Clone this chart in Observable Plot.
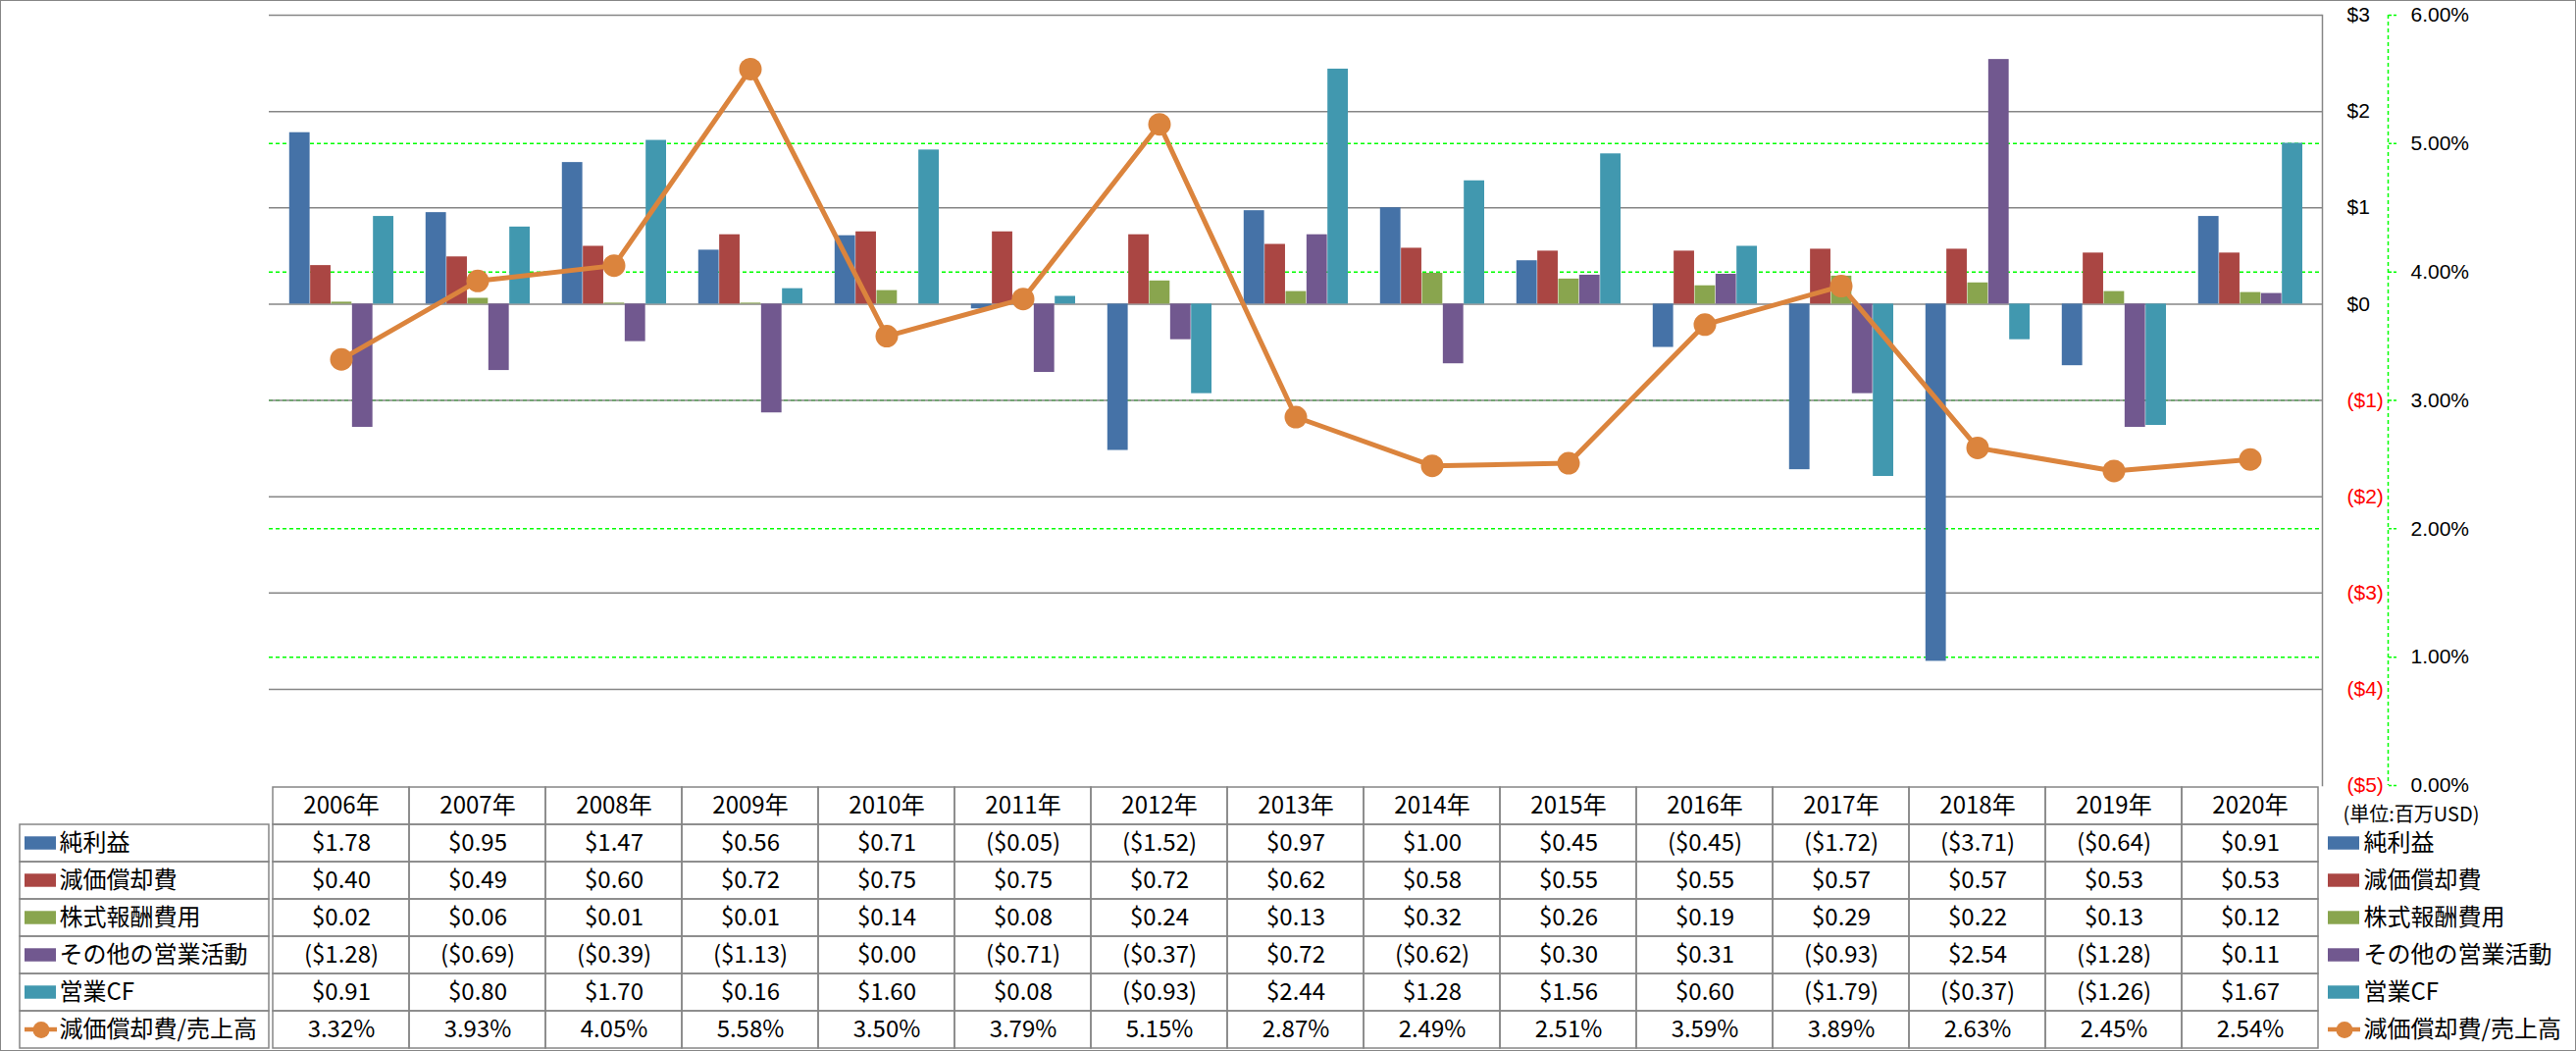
<!DOCTYPE html>
<html>
<head>
<meta charset="utf-8">
<script src="https://cdn.jsdelivr.net/npm/d3@7"></script>
<script src="https://cdn.jsdelivr.net/npm/@observablehq/plot@0.6"></script>
<style>
html, body { margin: 0; padding: 0; background: #ffffff; }
#chart { position: relative; width: 2626px; height: 1071px; background: #ffffff; overflow: hidden; }
#chart svg { position: absolute; left: 0; top: 0; max-width: none; }
#border { position: absolute; left: 0; top: 0; width: 2626px; height: 1071px; box-sizing: border-box; border: 1px solid #868686; pointer-events: none; }
</style>
</head>
<body>
<div id="chart"></div>
<script>
// ---------- DATA ----------
const years = ["2006年","2007年","2008年","2009年","2010年","2011年","2012年","2013年","2014年","2015年","2016年","2017年","2018年","2019年","2020年"];
const seriesNames = ["純利益","減価償却費","株式報酬費用","その他の営業活動","営業CF"];
const lineName = "減価償却費/売上高";
const netIncome    = [1.78, 0.95, 1.47, 0.56, 0.71, -0.05, -1.52, 0.97, 1.00, 0.45, -0.45, -1.72, -3.71, -0.64, 0.91];
const depreciation = [0.40, 0.49, 0.60, 0.72, 0.75, 0.75, 0.72, 0.62, 0.58, 0.55, 0.55, 0.57, 0.57, 0.53, 0.53];
const stockComp    = [0.02, 0.06, 0.01, 0.01, 0.14, 0.08, 0.24, 0.13, 0.32, 0.26, 0.19, 0.29, 0.22, 0.13, 0.12];
const otherOps     = [-1.28, -0.69, -0.39, -1.13, 0.00, -0.71, -0.37, 0.72, -0.62, 0.30, 0.31, -0.93, 2.54, -1.28, 0.11];
const operatingCF  = [0.91, 0.80, 1.70, 0.16, 1.60, 0.08, -0.93, 2.44, 1.28, 1.56, 0.60, -1.79, -0.37, -1.26, 1.67];
const deprRatio    = [3.32, 3.93, 4.05, 5.58, 3.50, 3.79, 5.15, 2.87, 2.49, 2.51, 3.59, 3.89, 2.63, 2.45, 2.54]; // percent
const dollarTicks = [3, 2, 1, 0, -1, -2, -3, -4, -5];
const pctTicks = [0, 1, 2, 3, 4, 5, 6];
const unitNote = "(単位:百万USD)";

// ---------- STYLE ----------
const barColors = ["#4572A7", "#AA4643", "#89A54E", "#71588F", "#4198AF"];
const ORANGE = "#DB843D";
const GREEN = "#00FF00";
const GRAY = "#868686";
const FONT = "'Noto Sans CJK JP', 'Noto Sans', sans-serif";
const AXISFONT = "'Liberation Sans', 'Noto Sans', sans-serif";

const W = 2626, H = 1071;
const L = 274, R = 2367, T = 15, B = 800, TB = 1070, LABL = 20;
const bw = (R - L) / years.length;
const barW = 21.35;
const pad = (bw - barW * 5) / 2 + 0.4;

const seriesValues = [netIncome, depreciation, stockComp, otherOps, operatingCF];
const fmtMoney = v => v < 0 ? `($${(-v).toFixed(2)})` : `$${v.toFixed(2)}`;
const fmtAxis = v => v < 0 ? `($${-v})` : `$${v}`;
const fmtPct = v => `${v.toFixed(2)}%`;

const baseStyle = {background: "transparent", fontFamily: FONT, overflow: "visible"};
const base = {width: W, height: H, marginLeft: L, marginRight: W - R, marginTop: T, marginBottom: H - B, style: baseStyle};

const chart = document.getElementById("chart");

// ---------- Layer 1: secondary grid & axis ----------
const gridPlot = Plot.plot({
  ...base,
  x: {domain: [0, 1], axis: null},
  y: {domain: [0, 6]},
  marks: [
    Plot.ruleY(pctTicks.filter(d => d > 0 && d < 6), {stroke: GREEN, strokeWidth: 1.5, strokeDasharray: "4,3"}),
    Plot.ruleX([1], {dx: 67, stroke: GREEN, strokeWidth: 1.5, strokeDasharray: "4,3"}),
    Plot.axisY({anchor: "right", ticks: pctTicks, tickSize: 9, tickPadding: 14, dx: 67,
      stroke: GREEN, strokeWidth: 1.5, strokeDasharray: "3,2", fill: "#000000",
      fontSize: 21, fontFamily: AXISFONT, tickFormat: fmtPct, label: null})
  ]
});
chart.appendChild(gridPlot);

// ---------- Layer 2: bars ----------
const barPlot = Plot.plot({
  ...base,
  x: {type: "band", domain: years, padding: 0, axis: null},
  y: {domain: [-5, 3], axis: null},
  marks: [
    Plot.ruleY(dollarTicks.filter(d => d > -5), {stroke: GRAY, strokeWidth: 1.5}),
    ...seriesValues.map((vals, j) => Plot.barY(
      years.map((yr, i) => ({year: yr, value: vals[i]})),
      {x: "year", y: "value", fill: barColors[j],
       insetLeft: pad + j * barW, insetRight: bw - pad - (j + 1) * barW}
    )),
    Plot.text(dollarTicks, {y: d => d, text: fmtAxis, frameAnchor: "right", dx: 25, textAnchor: "start",
      fill: d => d < 0 ? "#ff0000" : "#000000", fontSize: 21, fontFamily: AXISFONT}),
    Plot.frame({anchor: "right", stroke: GRAY, strokeWidth: 1.5})
  ]
});
chart.appendChild(barPlot);

// ---------- Layer 3: line ----------
const lineData = years.map((yr, i) => ({year: yr, pct: deprRatio[i]}));
const linePlot = Plot.plot({
  ...base,
  x: {type: "band", domain: years, padding: 0, axis: null},
  y: {domain: [0, 6], axis: null},
  marks: [
    Plot.line(lineData, {x: "year", y: "pct", stroke: ORANGE, strokeWidth: 5}),
    Plot.dot(lineData, {x: "year", y: "pct", r: 11.5, fill: ORANGE})
  ]
});
chart.appendChild(linePlot);

// ---------- Layer 4: data table ----------
const rowKeys = ["header", ...seriesNames, lineName];
const tableCells = [];
years.forEach((yr, i) => {
  tableCells.push({year: yr, row: "header", label: yr});
  seriesNames.forEach((s, j) => tableCells.push({year: yr, row: s, label: fmtMoney(seriesValues[j][i])}));
  tableCells.push({year: yr, row: lineName, label: fmtPct(deprRatio[i])});
});
const tablePlot = Plot.plot({
  width: W, height: H, marginLeft: L, marginRight: W - R, marginTop: B, marginBottom: H - TB, style: baseStyle,
  x: {type: "band", domain: years, padding: 0, axis: null},
  y: {type: "band", domain: rowKeys, padding: 0, axis: null},
  marks: [
    Plot.cell(tableCells, {x: "year", y: "row", fill: "none", stroke: GRAY, strokeWidth: 1.5}),
    Plot.text(tableCells, {x: "year", y: "row", text: "label", fontSize: 24, fill: "#000000"})
  ]
});
chart.appendChild(tablePlot);

// ---------- Legend columns ----------
const legendBars = seriesNames.map((s, j) => ({col: "c", row: s, name: s, color: barColors[j]}));
const legendLine = [{col: "c", row: lineName, name: lineName}];
const legendAll = [...legendBars, ...legendLine];
const rowH = (TB - B) / rowKeys.length;

function legendPlot(left, right, swatchX, textX, withCells, extra = []) {
  const colW = (W - right) - left;
  return Plot.plot({
    width: W, height: H, marginLeft: left, marginRight: right, marginTop: B, marginBottom: H - TB, style: baseStyle,
    x: {type: "band", domain: ["c"], padding: 0, axis: null},
    y: {type: "band", domain: rowKeys, padding: 0, axis: null},
    marks: [
      withCells ? Plot.cell(legendAll, {x: "col", y: "row", fill: "none", stroke: GRAY, strokeWidth: 1.5}) : null,
      Plot.cell(legendBars, {x: "col", y: "row", fill: "color",
        insetLeft: swatchX, insetRight: colW - swatchX - 32, insetTop: (rowH - 14) / 2, insetBottom: (rowH - 14) / 2}),
      Plot.cell(legendLine, {x: "col", y: "row", fill: ORANGE,
        insetLeft: swatchX, insetRight: colW - swatchX - 33, insetTop: (rowH - 5) / 2, insetBottom: (rowH - 5) / 2}),
      Plot.dot(legendLine, {y: "row", frameAnchor: "left", dx: swatchX + 16.5, r: 8.5, fill: ORANGE}),
      Plot.text(legendAll, {y: "row", text: "name", frameAnchor: "left", dx: textX, textAnchor: "start", fontSize: 24, fill: "#000000"}),
      ...extra
    ]
  });
}
chart.appendChild(legendPlot(LABL, W - L, 5, 40, true));
chart.appendChild(legendPlot(R, 0, 6, 42, false, [
  Plot.text([unitNote], {y: () => "header", text: d => d, frameAnchor: "left", dx: 21, dy: 9, textAnchor: "start", fontSize: 20, fill: "#000000"})
]));

const border = document.createElement("div");
border.id = "border";
chart.appendChild(border);
</script>
</body>
</html>
